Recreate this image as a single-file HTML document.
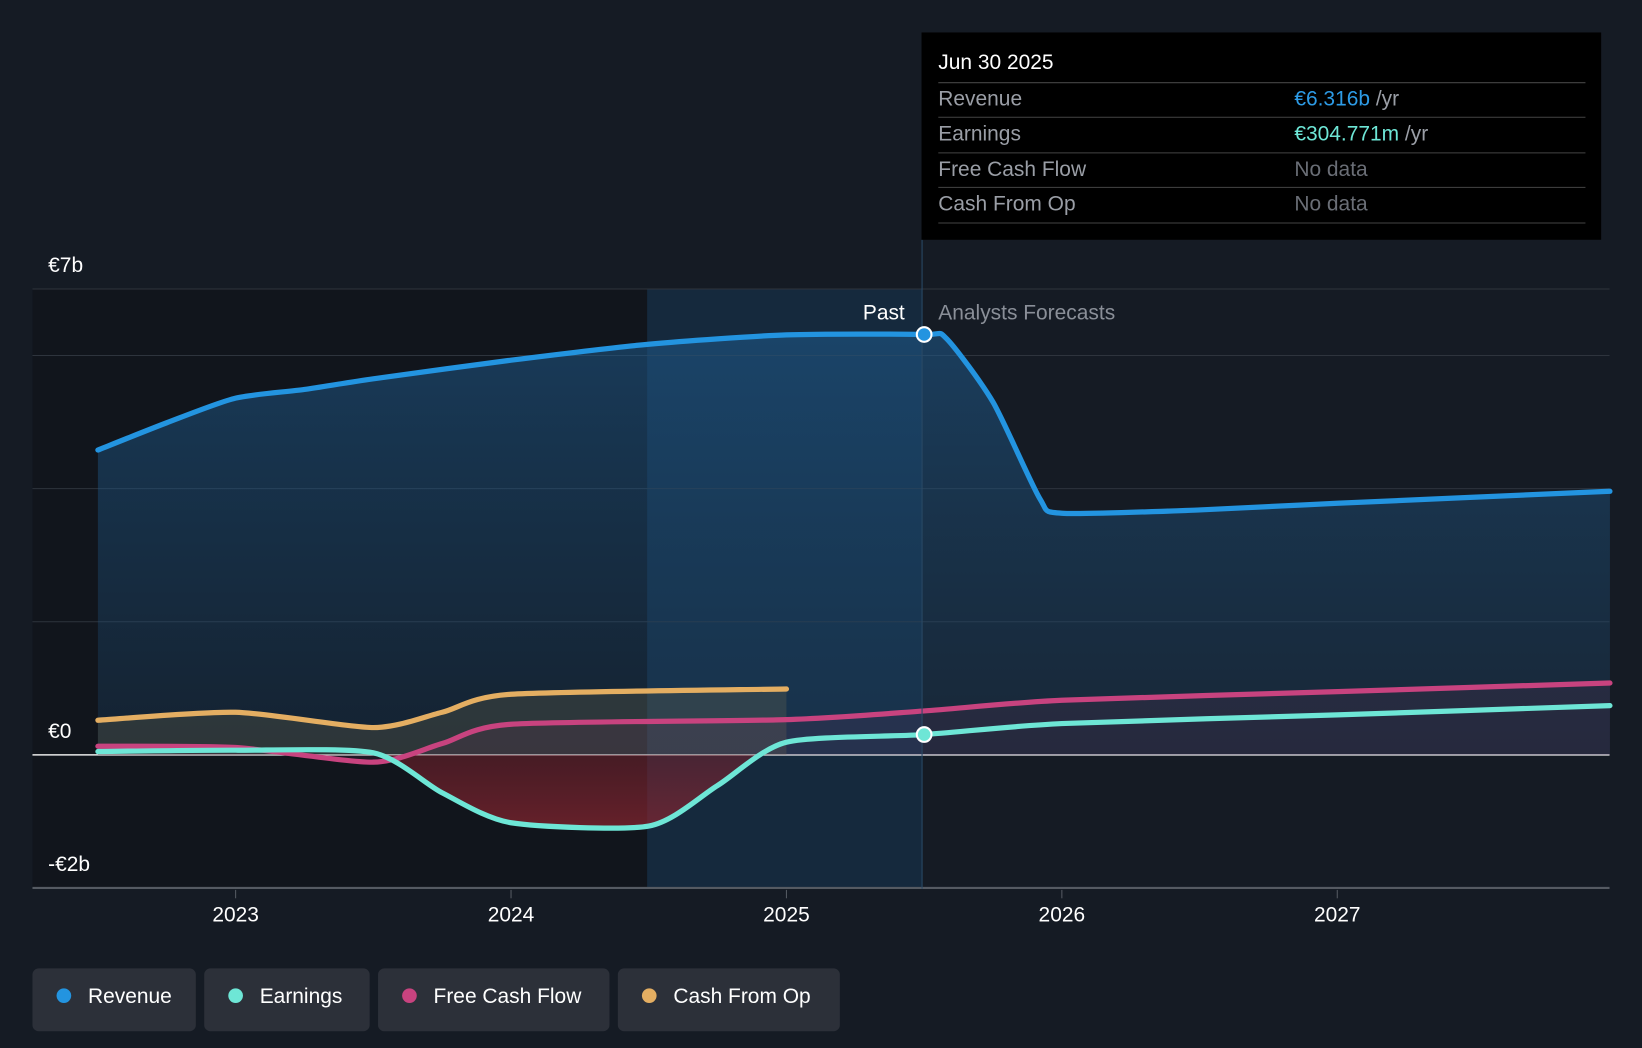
<!DOCTYPE html>
<html><head><meta charset="utf-8"><style>
html,body{margin:0;padding:0;background:#151b24;}
svg{display:block;font-family:"Liberation Sans",sans-serif;}
</style></head><body>
<svg id="chart" width="1642" height="1048" viewBox="0 0 1568 1001" preserveAspectRatio="none">
<defs>
<linearGradient id="revFill" x1="0" y1="0" x2="0" y2="1"><stop offset="0" stop-color="#1e5a8c" stop-opacity="0.55"/><stop offset="1" stop-color="#1e4a70" stop-opacity="0.25"/></linearGradient>
<linearGradient id="negFill" x1="0" y1="0" x2="0" y2="1"><stop offset="0" stop-color="#6b1f2a" stop-opacity="0.4"/><stop offset="1" stop-color="#8a2530" stop-opacity="0.7"/></linearGradient>
<clipPath id="belowZero"><rect x="0" y="721" width="1568" height="200"/></clipPath>
</defs>
<rect x="0" y="0" width="1568" height="1001" fill="#151b24"/>
<rect x="31" y="276" width="587" height="573" fill="#11151c"/>
<rect x="618" y="276" width="262" height="573" fill="#152c42" opacity="0.85"/>
<g id="grid"></g>
<g id="areas"></g>
<g id="lines"></g>
<line x1="880.5" y1="229" x2="880.5" y2="849" stroke="#2a4a66" stroke-width="1"/>
<text x="864" y="305" fill="#fff" font-size="20" text-anchor="end">Past</text>
<text x="896" y="305" fill="#8a8f98" font-size="20">Analysts Forecasts</text>
<g id="markers"></g>
<g>
<rect x="880" y="31" width="649" height="198" fill="#000"/>
<text x="896" y="66" fill="#fff" font-size="20">Jun 30 2025</text>
<line x1="896" y1="79" x2="1514" y2="79" stroke="#444" />
<text x="896" y="101" fill="#9a9ea6" font-size="20">Revenue</text>
<text x="1236" y="101" font-size="20"><tspan fill="#2d9be6">€6.316b</tspan><tspan fill="#9a9ea6"> /yr</tspan></text>
<line x1="896" y1="112" x2="1514" y2="112" stroke="#444" />
<text x="896" y="134" fill="#9a9ea6" font-size="20">Earnings</text>
<text x="1236" y="134" font-size="20"><tspan fill="#6ee6d6">€304.771m</tspan><tspan fill="#9a9ea6"> /yr</tspan></text>
<line x1="896" y1="146" x2="1514" y2="146" stroke="#444" />
<text x="896" y="168" fill="#9a9ea6" font-size="20">Free Cash Flow</text>
<text x="1236" y="168" fill="#6a6e76" font-size="20">No data</text>
<line x1="896" y1="179" x2="1514" y2="179" stroke="#444" />
<text x="896" y="201" fill="#9a9ea6" font-size="20">Cash From Op</text>
<text x="1236" y="201" fill="#6a6e76" font-size="20">No data</text>
<line x1="896" y1="213" x2="1514" y2="213" stroke="#444" />
</g>
<g id="legend"></g>
</svg>
<script>
const yTicks=[7,6,4,2,0,-2];
const yLabels=["€7b","€0","-€2b"];
const yLabelVals=[7,0,-2];
const xTicks=[2023,2024,2025,2026,2027];
const revX=[2022.5,2022.75,2023,2023.25,2023.5,2024,2024.5,2025,2025.5,2025.58,2025.75,2025.92,2026,2026.5,2027,2027.99];
const revY=[4.58,4.99,5.36,5.49,5.65,5.93,6.17,6.31,6.316,6.26,5.3,3.85,3.63,3.68,3.78,3.96];
const earnX=[2022.5,2023,2023.5,2023.75,2024,2024.5,2024.75,2025,2025.5,2026,2027,2027.99];
const earnY=[0.05,0.07,0.03,-0.57,-1.02,-1.07,-0.46,0.19,0.305,0.47,0.6,0.74];
const fcfX=[2022.5,2023,2023.5,2023.75,2024,2025,2025.5,2026,2027,2027.99];
const fcfY=[0.13,0.11,-0.11,0.17,0.46,0.53,0.66,0.82,0.95,1.08];
const cfoX=[2022.5,2023,2023.5,2023.75,2024,2025];
const cfoY=[0.52,0.64,0.41,0.64,0.91,0.99];
const NS="http://www.w3.org/2000/svg";
const sx=v=>225+(v-2023)*263;
const sy=v=>721-v*63.57;
function mk(tag,attrs,parent){const e=document.createElementNS(NS,tag);for(const k in attrs)e.setAttribute(k,attrs[k]);parent.appendChild(e);return e;}
function pathD(xs,ys){const p=xs.map((x,i)=>[sx(x),sy(ys[i])]);let d="M"+p[0][0]+","+p[0][1];
for(let i=0;i<p.length-1;i++){const p0=p[Math.max(0,i-1)],p1=p[i],p2=p[i+1],p3=p[Math.min(p.length-1,i+2)];
const t=0.12;d+=" C"+(p1[0]+(p2[0]-p0[0])*t)+","+(p1[1]+(p2[1]-p0[1])*t)+" "+(p2[0]-(p3[0]-p1[0])*t)+","+(p2[1]-(p3[1]-p1[1])*t)+" "+p2[0]+","+p2[1];}return d;}
const grid=document.getElementById('grid');
yTicks.forEach(v=>{const l=mk('line',{x1:31,x2:1537,y1:sy(v),y2:sy(v),stroke:v===0?'#e8e8e8':(v===-2?'#555a62':'#2e343d'),'stroke-width':v===0?1.5:(v===-2?2:1)},grid);

});
yLabelVals.forEach((v,i)=>{const t=mk('text',{x:46,y:sy(v)-16,fill:'#fff','font-size':20},grid);t.textContent=yLabels[i];

});
xTicks.forEach(v=>{const l=mk('line',{x1:sx(v),x2:sx(v),y1:850,y2:858,stroke:'#555a62'},grid);


const t=mk('text',{x:sx(v),y:880,fill:'#fff','font-size':20,'text-anchor':'middle'},grid);t.textContent=v;

});
const areas=document.getElementById('areas'),lines=document.getElementById('lines');
function area(xs,ys,fill,name,clip){const d=pathD(xs,ys)+" L"+sx(xs[xs.length-1])+","+sy(0)+" L"+sx(xs[0])+","+sy(0)+"Z";
const a=mk('path',{d:d,fill:fill},areas);if(clip)a.setAttribute('clip-path',clip);}
area(revX,revY,'url(#revFill)','revenue-area');
area(cfoX,cfoY,'rgba(120,110,80,0.25)','cash-from-op-area');
area(fcfX,fcfY,'rgba(150,60,110,0.12)','free-cash-flow-area');
area(earnX,earnY,'url(#negFill)','earnings-area','url(#belowZero)');
function line(xs,ys,col,name){const l=mk('path',{d:pathD(xs,ys),fill:'none',stroke:col,'stroke-width':5,'stroke-linecap':'round'},lines);
}
line(cfoX,cfoY,'#e4ae62','cash-from-op-line');
line(fcfX,fcfY,'#c8437f','free-cash-flow-line');
line(earnX,earnY,'#6ee6d6','earnings-line');
line(revX,revY,'#2394e0','revenue-line');
const mg=document.getElementById('markers');
const m1=mk('circle',{cx:sx(2025.5),cy:sy(revY[8]),r:7,fill:'#2394e0',stroke:'#fff','stroke-width':2},mg);


const m2=mk('circle',{cx:sx(2025.5),cy:sy(earnY[8]),r:7,fill:'#6ee6d6',stroke:'#fff','stroke-width':2},mg);


const legNames=["Revenue","Earnings","Free Cash Flow","Cash From Op"];
const legCols=["#2394e0","#6ee6d6","#c8437f","#e4ae62"];
const legX=[31,195,361,590],legW=[156,158,221,212];
const lg=document.getElementById('legend');
legNames.forEach((n,i)=>{const g=mk('g',{},lg);


mk('rect',{x:legX[i],y:925,width:legW[i],height:60,rx:6,fill:'#2c3039'},g);
mk('circle',{cx:legX[i]+30,cy:951,r:7,fill:legCols[i]},g);
const t=mk('text',{x:legX[i]+53,y:958,fill:'#fff','font-size':20},g);t.textContent=n;});
</script>
</body></html>
